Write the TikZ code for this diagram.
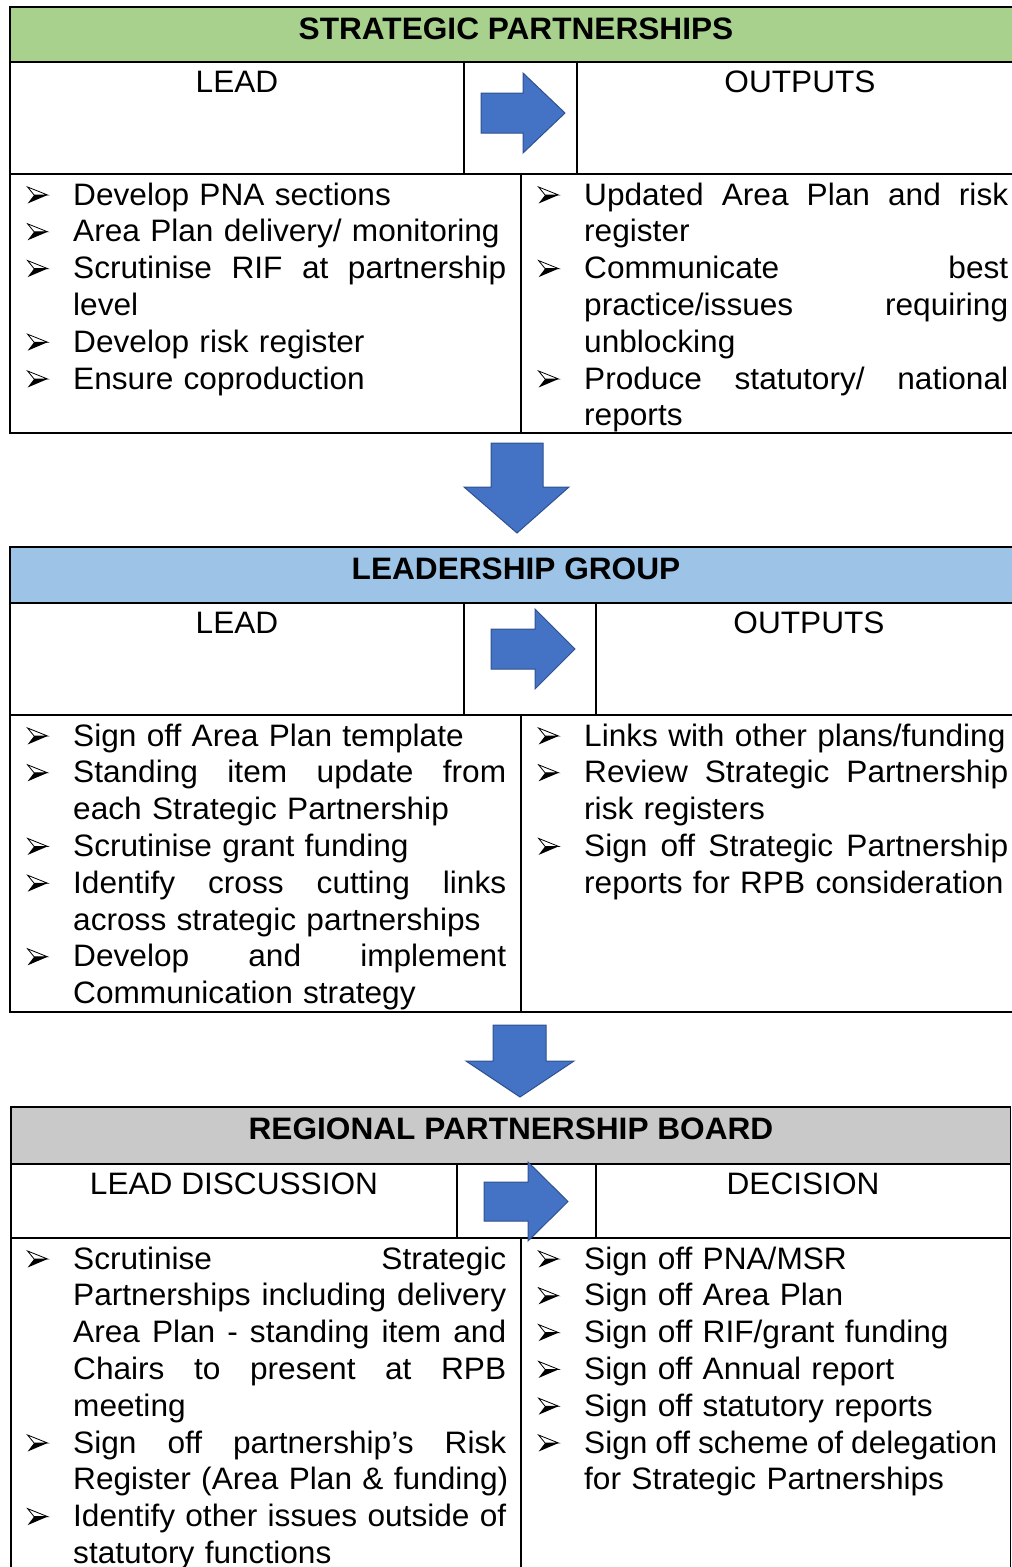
\documentclass[tikz,border=0pt]{standalone}
\usepackage{fontspec}
\setmainfont{Liberation Sans}[FakeStretch=1.02]
\definecolor{sgreen}{HTML}{A9D18E}
\definecolor{sblue}{HTML}{9DC3E6}
\definecolor{sgray}{HTML}{C9C9C9}
\definecolor{afill}{HTML}{4472C4}
\definecolor{aline}{HTML}{2F528F}
\newlength\tw
\newcommand\bulmark{\tikz[baseline=0pt,x=1pt,y=1pt,line width=0.8pt,line join=miter]{\filldraw[fill=white,draw=black] (0,18)--(20,10)--(6.5,10)--cycle; \fill[black] (6.5,10)--(20,10)--(0,1.5)--cycle;}}
\newcommand\lns[1]{\hbox to \tw{\spaceskip=0.25em plus 1fil\relax #1}}
\newcommand\lnl[1]{\hbox to \tw{#1\hfil}}
\newcommand\bl[2]{\par\noindent\rule{0pt}{27pt}\makebox[46pt][l]{\bulmark}\csname ln#1\endcsname{#2}}
\newcommand\cl[2]{\par\noindent\rule{0pt}{27pt}\hspace*{46pt}\csname ln#1\endcsname{#2}}
\tikzset{
  frame/.style={line width=1.8pt,draw=black},
  thin frame/.style={line width=1.3pt,draw=black},
  blkarrow/.style={fill=afill,draw=aline,line width=1pt,line join=miter},
  title/.style={anchor=base,inner sep=0pt,font=\fontsize{31}{36.8}\selectfont\bfseries},
  head/.style={anchor=base,inner sep=0pt,font=\fontsize{31}{36.8}\selectfont},
  listL/.style={anchor=north west,inner sep=0pt,text width=480pt,font=\fontsize{31}{36.8}\selectfont},
  listR/.style={anchor=north west,inner sep=0pt,text width=472pt,font=\fontsize{31}{36.8}\selectfont}
}
\begin{document}
\begin{tikzpicture}[x=1pt,y=-1pt]
\useasboundingbox (0,0) rectangle (1012,1567);
% ---------- Section 1 ----------
\fill[sgreen] (10,7) rectangle (1030,62);
\draw[frame] (1030,7) -- (10,7) -- (10,433) -- (1030,433);
\draw[frame] (10,62) -- (1030,62);
\draw[frame] (10,174) -- (1030,174);
\draw[frame] (464,62) -- (464,174);
\draw[frame] (577,62) -- (577,174);
\draw[thin frame] (521,174) -- (521,433);
\node[title] (t1) at (516,39) {STRATEGIC PARTNERSHIPS};
\node[head] (l1) at (237,92) {LEAD};
\node[head] (o1) at (800,92) {OUTPUTS};
\draw[blkarrow] (481,93) -- (523,93) -- (523,73) -- (565,113) -- (523,153) -- (523,133) -- (481,133) -- cycle;
\node[listL] (b1l) at (27,168) {\setlength\tw{433pt}%
\bl{l}{Develop PNA sections}%
\bl{l}{Area Plan delivery/ monitoring}%
\bl{s}{Scrutinise RIF at partnership}%
\cl{l}{level}%
\bl{l}{Develop risk register}%
\bl{l}{Ensure coproduction}};
\node[listR] (b1r) at (538,168) {\setlength\tw{424pt}%
\bl{s}{Updated Area Plan and risk}%
\cl{l}{register}%
\bl{s}{Communicate best}%
\cl{s}{practice/issues requiring}%
\cl{l}{unblocking}%
\bl{s}{Produce statutory/ national}%
\cl{l}{reports}};
% down arrow 1
\draw[blkarrow] (491,443) -- (543,443) -- (543,487) -- (569,487) -- (517,533) -- (464,487) -- (491,487) -- cycle;
% ---------- Section 2 ----------
\fill[sblue] (10,547) rectangle (1030,603);
\draw[frame] (1030,547) -- (10,547) -- (10,1012) -- (1030,1012);
\draw[frame] (10,603) -- (1030,603);
\draw[frame] (10,715) -- (1030,715);
\draw[frame] (464,603) -- (464,715);
\draw[frame] (596,603) -- (596,715);
\draw[thin frame] (521,715) -- (521,1012);
\node[title] (t2) at (516,579) {LEADERSHIP GROUP};
\node[head] (l2) at (237,633) {LEAD};
\node[head] (o2) at (809,633) {OUTPUTS};
\draw[blkarrow] (491,629) -- (535,629) -- (535,609) -- (575,649) -- (535,689) -- (535,669) -- (491,669) -- cycle;
\node[listL] (b2l) at (27,709) {\setlength\tw{433pt}%
\bl{l}{Sign off Area Plan template}%
\bl{s}{Standing item update from}%
\cl{l}{each Strategic Partnership}%
\bl{l}{Scrutinise grant funding}%
\bl{s}{Identify cross cutting links}%
\cl{l}{across strategic partnerships}%
\bl{s}{Develop and implement}%
\cl{l}{Communication strategy}};
\node[listR] (b2r) at (538,709) {\setlength\tw{424pt}%
\bl{l}{Links with other plans/funding}%
\bl{s}{Review Strategic Partnership}%
\cl{l}{risk registers}%
\bl{s}{Sign off Strategic Partnership}%
\cl{l}{reports for RPB consideration}};
% down arrow 2
\draw[blkarrow] (493,1025) -- (546,1025) -- (546,1061) -- (574,1061) -- (520,1097) -- (466,1061) -- (493,1061) -- cycle;
% ---------- Section 3 ----------
\fill[sgray] (11,1107) rectangle (1010.5,1164);
\draw[frame] (11,1580) -- (11,1107) -- (1010.5,1107) -- (1010.5,1580);
\draw[frame] (11,1164) -- (1010.5,1164);
\draw[frame] (11,1238) -- (1010.5,1238);
\draw[frame] (457,1164) -- (457,1238);
\draw[frame] (596,1164) -- (596,1238);
\draw[thin frame] (521,1238) -- (521,1580);
\node[title] (t3) at (511,1139) {REGIONAL PARTNERSHIP BOARD};
\node[head] (l3) at (234,1194) {LEAD DISCUSSION};
\node[head] (o3) at (803,1194) {DECISION};
\draw[blkarrow] (484,1182) -- (528,1182) -- (528,1162) -- (568,1201.5) -- (528,1241) -- (528,1221) -- (484,1221) -- cycle;
\node[listL] (b3l) at (27,1232) {\setlength\tw{433pt}%
\bl{s}{Scrutinise Strategic}%
\cl{s}{Partnerships including delivery}%
\cl{s}{Area Plan - standing item and}%
\cl{s}{Chairs to present at RPB}%
\cl{l}{meeting}%
\bl{s}{Sign off partnership’s Risk}%
\cl{l}{Register (Area Plan \& funding)}%
\bl{s}{Identify other issues outside of}%
\cl{l}{statutory functions}};
\node[listR] (b3r) at (538,1232) {\setlength\tw{413pt}%
\bl{l}{Sign off PNA/MSR}%
\bl{l}{Sign off Area Plan}%
\bl{l}{Sign off RIF/grant funding}%
\bl{l}{Sign off Annual report}%
\bl{l}{Sign off statutory reports}%
\bl{s}{Sign off scheme of delegation}%
\cl{l}{for Strategic Partnerships}};
\end{tikzpicture}
\end{document}
